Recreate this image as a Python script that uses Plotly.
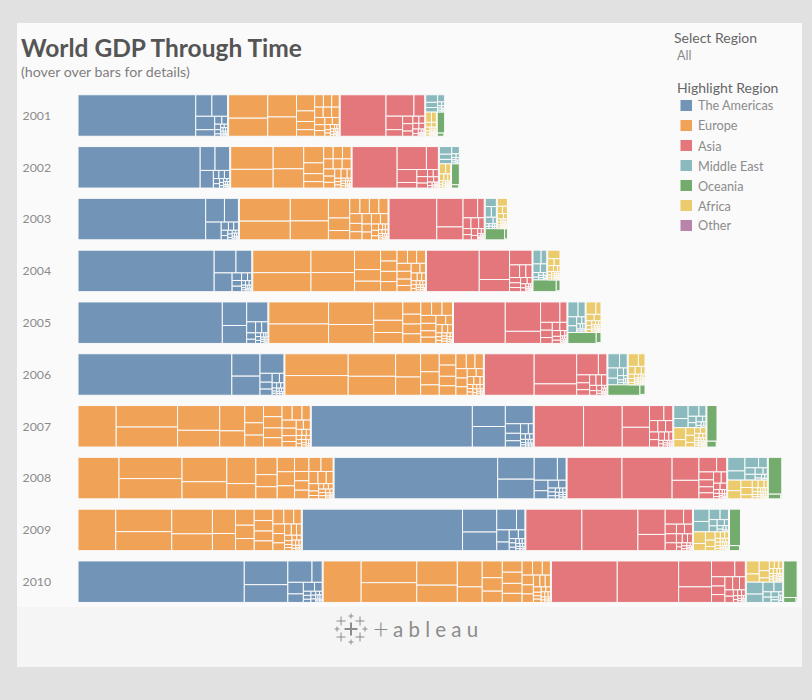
import plotly.graph_objects as go

# ---- Labels ----
years = [2001, 2002, 2003, 2004, 2005, 2006, 2007, 2008, 2009, 2010]
region_names = ["The Americas", "Europe", "Asia", "Middle East", "Oceania", "Africa", "Other"]
region_colors = ["#7194B7", "#F0A257", "#E3777B", "#8ABABD", "#73AC6D", "#EBCB6B", "#B884AA"]
title_text = "World GDP Through Time"
subtitle_text = "(hover over bars for details)"

# ---- GDP per country, billions of USD ----
americas_2001 = [10620, 756, 736, 554, 269, 123, 98, 71, 54, 31, 25, 27, 19, 16, 19, 12, 14, 9, 8, 7, 9, 8, 5, 3]
americas_2002 = [11020, 772, 758, 506, 98, 93, 98, 68, 57, 34, 29, 22, 21, 17, 12, 13, 14, 9, 8, 6, 9, 8, 4, 3]
americas_2003 = [11510, 970, 720, 600, 128, 83, 94, 76, 62, 36, 33, 21, 23, 18, 12, 14, 15, 11, 8, 6, 8, 8, 4, 3]
americas_2004 = [12270, 1080, 780, 730, 155, 113, 117, 100, 70, 38, 37, 22, 25, 19, 14, 15, 16, 13, 9, 8, 9, 9, 5, 4]
americas_2005 = [13000, 1245, 950, 915, 213, 146, 146, 123, 80, 42, 42, 34, 28, 20, 17, 16, 17, 16, 10, 9, 10, 10, 6, 4]
americas_2006 = [13850, 1370, 1170, 1015, 233, 183, 162, 148, 92, 52, 47, 36, 30, 22, 20, 18, 19, 19, 11, 11, 11, 10, 6, 5]
americas_2007 = [14500, 1500, 1470, 1100, 315, 245, 207, 173, 107, 58, 51, 42, 34, 26, 24, 21, 20, 22, 13, 14, 13, 12, 7, 6]
americas_2008 = [14720, 1730, 1560, 1150, 430, 315, 244, 180, 127, 61, 62, 48, 39, 30, 30, 25, 21, 28, 17, 18, 14, 14, 8, 6]
americas_2009 = [14420, 1700, 1380, 890, 375, 329, 233, 172, 122, 62, 62, 48, 38, 29, 31, 26, 21, 19, 17, 15, 12, 15, 8, 6]
americas_2010 = [14960, 2240, 1680, 1120, 470, 390, 287, 217, 148, 64, 68, 52, 41, 36, 39, 29, 21, 21, 20, 20, 13, 16, 9, 7]

europe_2001 = [2000, 1540, 1390, 1210, 640, 420, 325, 260, 235, 225, 200, 192, 190, 171, 161, 131, 125, 115, 105, 63, 38, 40, 38, 20, 21, 23, 20, 14, 12, 13, 12, 10, 8, 6, 8, 6, 4, 4, 4, 2]
europe_2002 = [2110, 1730, 1480, 1280, 710, 470, 345, 280, 255, 250, 232, 208, 198, 195, 172, 150, 137, 128, 124, 79, 46, 46, 42, 25, 23, 26, 23, 16, 14, 16, 14, 11, 9, 7, 9, 7, 5, 4, 4, 2]
europe_2003 = [2520, 2070, 1870, 1570, 910, 580, 430, 340, 315, 315, 305, 262, 217, 225, 212, 202, 172, 165, 160, 95, 84, 60, 50, 33, 30, 34, 29, 21, 18, 22, 19, 14, 11, 10, 11, 9, 6, 5, 5, 2]
europe_2004 = [2850, 2400, 2120, 1800, 1100, 590, 660, 390, 370, 365, 360, 300, 260, 255, 245, 240, 195, 185, 190, 115, 102, 75, 65, 43, 35, 41, 34, 25, 23, 25, 23, 17, 14, 12, 13, 11, 8, 5, 6, 3]
europe_2005 = [2860, 2520, 2210, 1860, 1160, 770, 690, 480, 385, 385, 375, 315, 305, 305, 260, 245, 205, 195, 210, 135, 112, 100, 86, 48, 38, 45, 36, 29, 30, 26, 26, 18, 17, 14, 16, 12, 8, 6, 6, 3]
europe_2006 = [3000, 2700, 2320, 1950, 1260, 990, 730, 530, 405, 410, 420, 335, 345, 340, 280, 270, 217, 208, 230, 155, 113, 122, 107, 56, 43, 50, 39, 33, 37, 31, 30, 20, 21, 17, 17, 13, 9, 7, 6, 3]
europe_2007 = [3440, 2860, 2660, 2260, 1530, 1380, 880, 700, 500, 485, 450, 450, 395, 375, 320, 310, 260, 247, 232, 180, 170, 142, 138, 75, 59, 51, 47, 42, 45, 39, 39, 29, 24, 22, 20, 15, 11, 8, 7, 4]
europe_2008 = [3690, 2900, 2770, 2370, 1660, 1650, 960, 800, 540, 560, 560, 530, 490, 440, 370, 370, 290, 290, 270, 240, 220, 180, 155, 95, 70, 55, 55, 52, 60, 48, 47, 34, 27, 24, 17, 19, 13, 10, 8, 6]
europe_2009 = [3400, 2730, 2310, 2180, 1480, 1220, 860, 650, 540, 490, 425, 465, 395, 400, 320, 350, 245, 240, 235, 195, 165, 118, 125, 88, 62, 50, 50, 50, 49, 41, 37, 26, 25, 19, 12, 18, 12, 9, 8, 5]
europe_2010 = [3420, 2620, 2380, 2130, 1525, 1400, 840, 730, 585, 485, 490, 480, 430, 390, 320, 300, 248, 238, 222, 208, 167, 136, 132, 90, 60, 56, 57, 50, 48, 41, 37, 25, 24, 19, 17, 13, 12, 9, 8, 7]

asia_2001 = [4150, 1310, 505, 490, 240, 167, 165, 115, 94, 90, 76, 72, 54, 33, 22, 16, 11, 8, 7, 6, 6, 5, 4, 4, 3, 2, 2, 2, 1, 1]
asia_2002 = [4080, 1470, 600, 560, 240, 165, 150, 115, 91, 81, 72, 55, 35, 25, 17, 10, 8, 7, 6, 6, 5, 5, 5, 3, 2, 2, 2, 1.4, 1]
asia_2003 = [4320, 1640, 740, 620, 280, 185, 180, 130, 110, 95, 95, 60, 40, 31, 18, 10, 9, 8, 7, 6, 6, 6, 5, 4, 3, 2, 2, 2, 1.5]
asia_2004 = [4770, 1940, 800, 722, 276, 173, 169, 125, 115, 98, 91, 65, 46, 43, 20, 12, 10, 10, 9, 8, 8, 7, 6, 5, 4, 2, 2, 2, 2]
asia_2005 = [4680, 2260, 930, 860, 310, 200, 190, 150, 135, 125, 103, 69, 57, 53, 24, 14, 13, 12, 12, 10, 8, 8, 6, 6, 5, 3, 3, 2, 2]
asia_2006 = [4500, 2790, 1050, 1000, 390, 222, 193, 157, 147, 127, 122, 81, 72, 61, 28, 21, 17, 14, 14, 12, 10, 9, 8, 7, 6, 3, 3, 3, 3]
asia_2007 = [4450, 3490, 1290, 1170, 470, 290, 207, 194, 178, 152, 149, 105, 80, 71, 33, 32, 22, 20, 18, 13, 12, 10, 10, 9, 9, 4, 4, 4, 4]
asia_2008 = [4950, 4520, 1340, 1080, 560, 320, 250, 219, 190, 190, 190, 133, 92, 91, 48, 41, 28, 27, 21, 19, 14, 13, 12, 12, 10, 6, 5, 5, 5]
asia_2009 = [5050, 5050, 1500, 960, 600, 290, 235, 220, 192, 168, 168, 115, 102, 97, 44, 42, 35, 33, 22, 20, 13, 11, 11, 10, 9, 6, 5, 5, 5]
asia_2010 = [5930, 5530, 1850, 1110, 800, 360, 270, 250, 229, 220, 195, 165, 116, 115, 53, 50, 46, 39, 28, 22, 16, 13, 12, 11, 9, 7, 7, 6, 5]

mideast_2001 = [205, 140, 125, 115, 35, 25, 21, 20, 18, 17, 9, 9, 8]
mideast_2002 = [215, 145, 125, 125, 38, 27, 22, 20, 20, 19, 10, 10, 8]
mideast_2003 = [215, 155, 125, 120, 48, 24, 21, 21, 20, 14, 11, 10, 10]
mideast_2004 = [258, 180, 148, 127, 60, 36, 31, 25, 25, 21, 14, 11, 11]
mideast_2005 = [348, 240, 180, 134, 80, 50, 44, 31, 29, 22, 17, 14, 13]
mideast_2006 = [376, 250, 222, 146, 102, 65, 60, 36, 34, 23, 19, 16, 15]
mideast_2007 = [416, 290, 258, 167, 114, 88, 80, 42, 40, 25, 25, 18, 17]
mideast_2008 = [520, 350, 315, 202, 147, 131, 115, 60, 52, 30, 30, 22, 22]
mideast_2009 = [429, 362, 254, 195, 111, 106, 97, 54, 47, 35, 30, 24, 20]
mideast_2010 = [450, 310, 240, 190, 95, 95, 90, 45, 45, 30, 22, 22, 18]

africa_2001 = [140, 115, 65, 55, 37, 28, 22, 13, 13, 11, 10, 10, 9, 8, 7, 6, 6, 5, 5, 5, 5, 5, 4, 4, 3, 3, 3, 3, 2]
africa_2002 = [150, 115, 70, 60, 42, 24, 20, 15, 14, 13, 12, 11, 11, 9, 8, 6, 6, 6, 5, 5, 5, 5, 4, 4, 3, 3, 3, 3, 2]
africa_2003 = [190, 90, 85, 80, 50, 27, 24, 18, 15, 14, 14, 14, 12, 9, 9, 8, 8, 7, 6, 6, 6, 5, 5, 5, 5, 4, 4, 4, 3]
africa_2004 = [245, 105, 95, 80, 57, 33, 31, 22, 20, 16, 16, 15, 13, 10, 10, 9, 9, 8, 8, 7, 6, 6, 6, 5, 5, 5, 5, 4, 4]
africa_2005 = [280, 145, 120, 100, 59, 50, 40, 32, 27, 19, 17, 16, 14, 12, 12, 11, 10, 9, 9, 9, 8, 7, 7, 6, 6, 6, 5, 5, 5]
africa_2006 = [295, 190, 125, 110, 65, 60, 56, 35, 34, 23, 18, 17, 15, 14, 14, 13, 13, 11, 10, 10, 10, 8, 8, 7, 7, 6, 6, 6, 6]
africa_2007 = [320, 200, 150, 140, 90, 75, 71, 46, 39, 31, 20, 20, 19, 17, 16, 16, 14, 12, 12, 11, 11, 9, 8, 8, 7, 7, 7, 7, 7]
africa_2008 = [310, 240, 185, 180, 105, 100, 100, 55, 45, 36, 28, 27, 24, 23, 21, 19, 18, 15, 14, 13, 11, 11, 10, 9, 9, 9, 9, 8, 8]
africa_2009 = [310, 189, 180, 138, 90, 75, 63, 54, 43, 37, 32, 26, 23, 23, 22, 18, 17, 15, 13, 12, 10, 10, 10, 9, 9, 9, 9, 8, 7]
africa_2010 = [375, 229, 219, 162, 91, 83, 75, 65, 44, 40, 32, 30, 24, 23, 23, 21, 20, 20, 14, 13, 13, 12, 11, 10, 10, 9, 9, 9, 9]

oceania_2001 = [378, 52, 3, 2]
oceania_2002 = [395, 58, 3, 2]
oceania_2003 = [490, 66, 3, 2]
oceania_2004 = [610, 92, 4, 3]
oceania_2005 = [690, 108, 5, 3]
oceania_2006 = [740, 108, 6, 3]
oceania_2007 = [853, 130, 6, 3]
oceania_2008 = [1150, 135, 8, 4]
oceania_2009 = [950, 120, 8, 3]
oceania_2010 = [1140, 142, 9, 3]

by_year = {
    2001: (americas_2001, europe_2001, asia_2001, mideast_2001, oceania_2001, africa_2001),
    2002: (americas_2002, europe_2002, asia_2002, mideast_2002, oceania_2002, africa_2002),
    2003: (americas_2003, europe_2003, asia_2003, mideast_2003, oceania_2003, africa_2003),
    2004: (americas_2004, europe_2004, asia_2004, mideast_2004, oceania_2004, africa_2004),
    2005: (americas_2005, europe_2005, asia_2005, mideast_2005, oceania_2005, africa_2005),
    2006: (americas_2006, europe_2006, asia_2006, mideast_2006, oceania_2006, africa_2006),
    2007: (americas_2007, europe_2007, asia_2007, mideast_2007, oceania_2007, africa_2007),
    2008: (americas_2008, europe_2008, asia_2008, mideast_2008, oceania_2008, africa_2008),
    2009: (americas_2009, europe_2009, asia_2009, mideast_2009, oceania_2009, africa_2009),
    2010: (americas_2010, europe_2010, asia_2010, mideast_2010, oceania_2010, africa_2010),
}

# ---- Page geometry ----
W, H = 812, 700
PLOT_LEFT = 77.5
BILLIONS_PER_PX = 89.6
ROW_TOP = 115.5
ROW_STEP = 51.8
BAR_PX = 41.5
BAND = BAR_PX / ROW_STEP
BAND_H = BAR_PX * BILLIONS_PER_PX   # band height expressed in the same unit as the x axis
ASPECT_COLUMN = 1.7
ASPECT_ROW = 0.7
REGION_GAP = 0.5 * BILLIONS_PER_PX


def worst(row, span, horizontal):
    """Worst deviation from the target aspect (width / height) for one strip of a treemap."""
    s = sum(v for _, v in row)
    thick = s / span
    target = ASPECT_ROW if horizontal else ASPECT_COLUMN
    out = 0
    for _, v in row:
        length = v / thick
        r = (length / thick) if horizontal else (thick / length)
        out = max(out, r / target, target / r)
    return out


def squarify(items, x, y, w, h):
    """items: (key, area). Returns key -> (x, y, w, h)."""
    items = sorted(items, key=lambda t: -t[1])
    out = {}
    i = 0
    while i < len(items):
        horizontal = w < h          # strip runs across the width, on top
        span = w if horizontal else h
        row = [items[i]]
        j = i + 1
        while j < len(items):
            if worst(row + [items[j]], span, horizontal) <= worst(row, span, horizontal):
                row.append(items[j])
                j += 1
            else:
                break
        s = sum(v for _, v in row)
        thick = s / span
        pos = 0
        for k, v in row:
            length = v / thick
            if horizontal:
                out[k] = (x + pos, y, length, thick)
            else:
                out[k] = (x, y + pos, thick, length)
            pos += length
        if horizontal:
            y += thick
            h -= thick
        else:
            x += thick
            w -= thick
        i = j
    return out


tiles = {r: dict(base=[], x=[], y=[], width=[], val=[], yr=[]) for r in range(6)}
for row_i, yr in enumerate(years):
    lists = by_year[yr]
    total = sum(sum(v) for v in lists)
    top = squarify([(r, sum(lists[r]) * BAND_H) for r in range(6)], 0, 0, total, BAND_H)
    for r in range(6):
        rx, ry, rw, rh = top[r]
        rx += REGION_GAP
        rw -= 2 * REGION_GAP
        scale = rw * rh / (sum(lists[r]) * BAND_H)
        cells = squarify([(n, v * BAND_H * scale) for n, v in enumerate(lists[r])], rx, ry, rw, rh)
        for n, (cx, cy, cw, ch) in cells.items():
            t = tiles[r]
            t["base"].append(cx)
            t["x"].append(cw)
            t["y"].append(row_i - BAND / 2 + BAND * (cy + ch / 2) / BAND_H)
            t["width"].append(BAND * ch / BAND_H)
            t["val"].append(lists[r][n])
            t["yr"].append(yr)

fig = go.Figure()
for r in range(6):
    t = tiles[r]
    fig.add_trace(go.Bar(
        orientation="h", name=region_names[r], base=t["base"], x=t["x"], y=t["y"], width=t["width"],
        marker=dict(color=region_colors[r], line=dict(color="#FAFAFA", width=1)),
        customdata=list(zip(t["yr"], t["val"])),
        hovertemplate=region_names[r] + "<br>%{customdata[0]}: $%{customdata[1]:,}B<extra></extra>",
        showlegend=False,
    ))


def px_x(p):
    return p / W


def px_y(p):
    return 1 - p / H


def rect(x0, y0, x1, y1, color):
    return dict(type="rect", xref="paper", yref="paper", x0=px_x(x0), x1=px_x(x1), y0=px_y(y0), y1=px_y(y1),
                fillcolor=color, line=dict(width=0), layer="below")


def label(px, py, text, size, color, weight=400):
    return dict(xref="paper", yref="paper", x=px_x(px), y=px_y(py), text=text, showarrow=False,
                xanchor="left", yanchor="middle", font=dict(family="Lato", size=size, color=color, weight=weight))


shapes = [rect(17, 23, 802, 607, "#FAFAFA"), rect(17, 607, 802, 667, "#F5F5F5")]
annots = [
    label(19, 47, title_text, 24.5, "#555555", 700),
    label(19, 71, subtitle_text, 14.2, "#7F7F7F"),
    label(672, 38, "Select Region", 14, "#666666"),
    label(675, 56, "All", 12.5, "#8A8A8A"),
    label(675, 87, "Highlight Region", 14, "#666666"),
]
for i, (nm, col) in enumerate(zip(region_names, region_colors)):
    cy = 105.5 + 20 * i
    shapes.append(rect(680.5, cy - 5.5, 692, cy + 5.5, col))
    annots.append(label(696, cy, nm, 12.7, "#8C8C8C"))

# Tableau footer mark
logo_crosses = [(351, 629, 6.5, 2), (341, 621, 4.5, 1), (360, 621, 4.5, 1), (341, 637, 4.5, 1), (360, 637, 4.5, 1),
                (351, 616, 2.5, 1), (351, 642, 2.5, 1), (337, 629, 2.5, 1), (365, 629, 2.5, 1)]
for cx, cy, hl, lw in logo_crosses:
    for x0, y0, x1, y1 in ((cx - hl, cy, cx + hl, cy), (cx, cy - hl, cx, cy + hl)):
        shapes.append(dict(type="line", xref="paper", yref="paper", x0=px_x(x0), x1=px_x(x1), y0=px_y(y0), y1=px_y(y1),
                           line=dict(color="#8C8C8C", width=lw), layer="below"))
annots.append(label(371, 628, "+", 27, "#8C8C8C", 300))
annots.append(label(391, 629, "a b l e a u", 20.5, "#8C8C8C"))

fig.update_layout(
    width=W, height=H, autosize=False, margin=dict(l=0, r=0, t=0, b=0),
    paper_bgcolor="#E1E1E1", plot_bgcolor="rgba(0,0,0,0)", barmode="overlay", showlegend=False,
    font=dict(family="Lato", color="#8C8C8C"),
    shapes=shapes, annotations=annots,
    xaxis=dict(domain=[PLOT_LEFT / W, 1], range=[0, (W - PLOT_LEFT) * BILLIONS_PER_PX], visible=False, fixedrange=True),
    yaxis=dict(domain=[0, 1], range=[(H - ROW_TOP) / ROW_STEP, -ROW_TOP / ROW_STEP],
               tickmode="array", tickvals=list(range(len(years))), ticktext=[str(y) for y in years],
               ticks="outside", ticklen=23, tickcolor="rgba(0,0,0,0)", tickfont=dict(family="Lato", size=12.3, color="#8C8C8C"),
               showgrid=False, zeroline=False, showline=False, automargin=False, fixedrange=True),
)

fig.write_html("out.html", post_script="document.body.style.margin='0';document.body.style.overflow='hidden';",
               config={"displayModeBar": False})
